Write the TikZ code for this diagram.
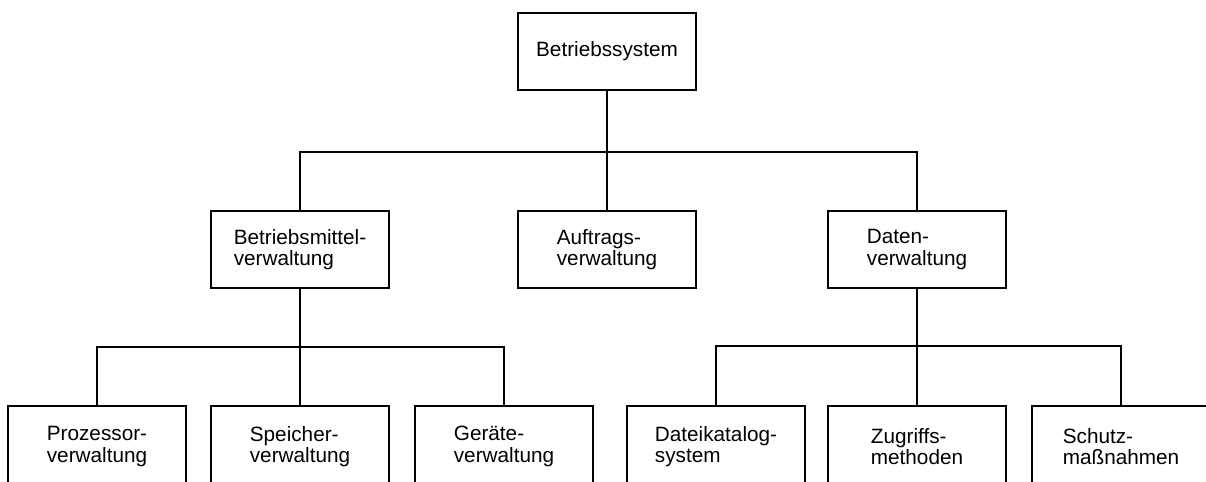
\documentclass[tikz,border=0pt]{standalone}
\usepackage{fontspec}
\setmainfont{Liberation Sans}
\usepackage{tikz}
\usetikzlibrary{positioning}

\begin{document}
\begin{tikzpicture}[
      x=0.02cm, y=-0.02cm,
      box/.style={draw, line width=1pt, minimum width=3.55cm, minimum height=1.55cm,
        align=left, inner sep=2pt, font=\fontsize{11.8}{12.2}\selectfont},
      leaf/.style={box, anchor=north, minimum height=1.62cm},
      link/.style={line width=1pt}
    ]
    \clip (0,0) rectangle (1206,482);
    % root
    \node[box] (sys) at (607,51.5) {Betriebssystem};
    % second level
    \node[box] (bmv) at (300,249.5) {Betriebsmittel-\\verwaltung};
    \node[box] (auf) at (607,249.5) {Auftrags-\\verwaltung};
    \node[box] (dat) at (917,249.5) {Daten-\\verwaltung};
    % leaves
    \foreach \name/\x/\lbl in {prz/97/{Prozessor-\\verwaltung}, spv/300/{Speicher-\\verwaltung},
        ger/504/{Geräte-\\verwaltung}, dkat/716/{Dateikatalog-\\system},
        zgr/917/{Zugriffs-\\methoden}, sch/1121/{Schutz-\\maßnahmen}}{
      \node[leaf] (\name) at (\x,405) {\lbl};
    }
    % forks
    \coordinate (fork1) at (607,152);
    \coordinate (fork2) at (300,347);
    \coordinate (fork3) at (917,346);
    \draw[link] (sys) -- (auf);
    \draw[link] (bmv.north) |- (fork1) -| (dat.north);
    \draw[link] (bmv) -- (spv);
    \draw[link] (prz.north) |- (fork2) -| (ger.north);
    \draw[link] (dat) -- (zgr);
    \draw[link] (dkat.north) |- (fork3) -| (sch.north);
  \end{tikzpicture}
\end{document}
